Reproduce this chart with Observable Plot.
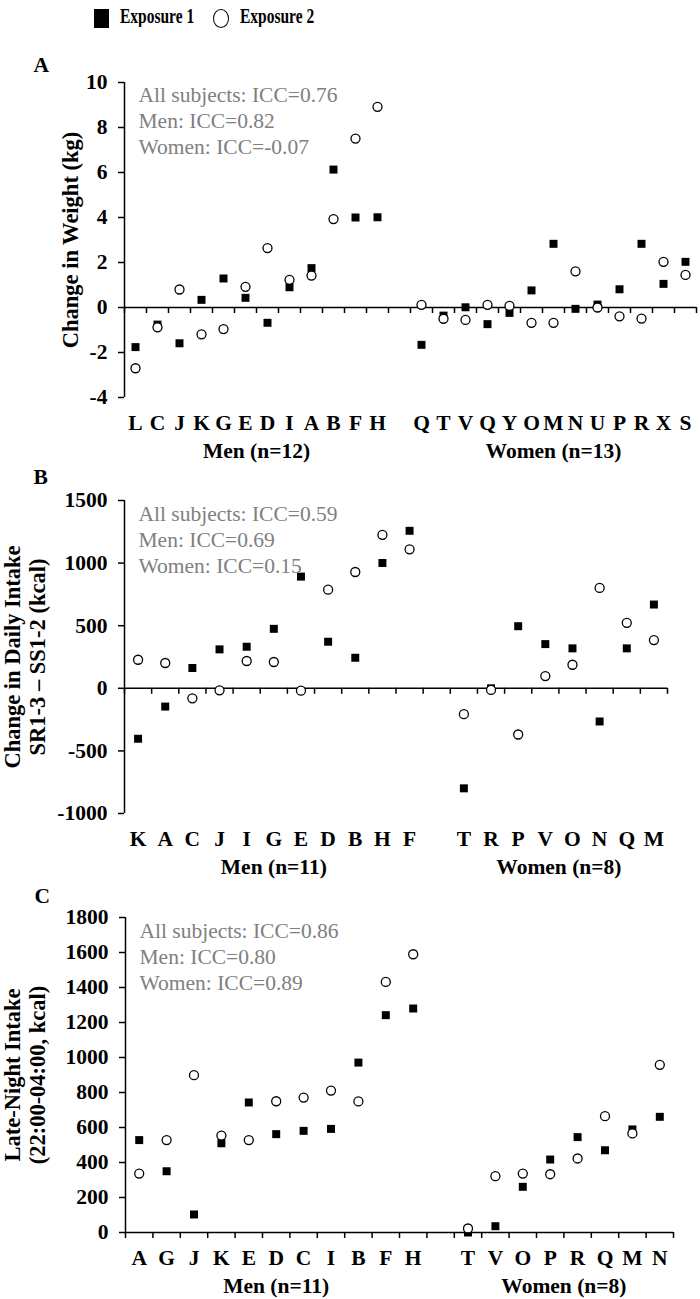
<!DOCTYPE html>
<html><head><meta charset="utf-8">
<script src="https://cdn.jsdelivr.net/npm/d3@7"></script>
<script src="https://cdn.jsdelivr.net/npm/@observablehq/plot@0.6"></script>
<style>
body{margin:0;background:#fff;width:700px;font-family:"Liberation Serif","Times New Roman",serif;}
#legend{position:relative;height:40px;}
#legend .sq{position:absolute;left:94px;top:9px;width:15px;height:19px;background:#000;}
#legend .ci{position:absolute;left:213px;top:9px;width:14px;height:17px;border:1.3px solid #000;border-radius:50%;box-sizing:content-box;}
#legend .lt{position:absolute;top:6px;font-weight:bold;font-size:15.5px;line-height:15px;transform:scaleY(1.3);transform-origin:left top;white-space:nowrap;}
svg{overflow:visible;display:block;}
</style></head><body>
<div id="legend">
  <div class="sq"></div><div class="lt" style="left:120px">Exposure 1</div>
  <div class="ci"></div><div class="lt" style="left:240px">Exposure 2</div>
</div>
<div id="chart"></div>
<script>
// Panel A: change in weight (kg)
const aMen = ["L","C","J","K","G","E","D","I","A","B","F","H"];
const aMenExp1 = [-1.76,-0.76,-1.59,0.34,1.29,0.43,-0.68,0.90,1.75,6.13,4.0,4.01];
const aMenExp2 = [-2.70,-0.88,0.80,-1.19,-0.96,0.92,2.64,1.23,1.42,3.93,7.51,8.92];
const aWomen = ["Q","T","V","Q","Y","O","M","N","U","P","R","X","S"];
const aWomenExp1 = [-1.66,-0.36,0.01,-0.74,-0.24,0.76,2.83,-0.06,0.13,0.81,2.83,1.05,2.03];
const aWomenExp2 = [0.12,-0.50,-0.55,0.12,0.07,-0.68,-0.68,1.61,0.0,-0.39,-0.49,2.03,1.45];
const aTicks = [-4,-2,0,2,4,6,8,10];

// Panel B: change in daily intake (kcal)
const bMen = ["K","A","C","J","I","G","E","D","B","H","F"];
const bMenExp1 = [-403,-146,162,311,332,475,892,372,244,1001,1258];
const bMenExp2 = [228,202,-80,-16,218,210,-19,788,929,1226,1110];
const bWomen = ["T","R","P","V","O","N","Q","M"];
const bWomenExp1 = [-799,0,496,353,319,-265,319,669];
const bWomenExp2 = [-207,-13,-369,98,188,802,523,385];
const bTicks = [-1000,-500,0,500,1000,1500];

// Panel C: late-night intake (kcal)
const cMen = ["A","G","J","K","E","D","C","I","B","F","H"];
const cMenExp1 = [528,350,103,510,743,562,581,592,971,1242,1280];
const cMenExp2 = [337,528,899,554,528,750,771,811,749,1432,1590];
const cWomen = ["T","V","O","P","R","Q","M","N"];
const cWomenExp1 = [0,36,261,417,545,470,589,661];
const cWomenExp2 = [23,322,337,333,423,665,566,958];
const cTicks = [0,200,400,600,800,1000,1200,1400,1600,1800];

const FONT = '"Liberation Serif","Times New Roman",serif';
const TICK_PX = 6;

function panel(o) {
  const rows = [];
  o.men.forEach((s, i) => rows.push({pos: i + 0.5, label: s, e1: o.e1m[i], e2: o.e2m[i]}));
  const off = o.men.length + 1;
  o.women.forEach((s, i) => rows.push({pos: off + i + 0.5, label: s, e1: o.e1w[i], e2: o.e2w[i]}));
  const nBands = off + o.women.length;
  const groups = [
    {pos: o.men.length / 2, t: `Men (n=${o.men.length})`},
    {pos: off + o.women.length / 2, t: `Women (n=${o.women.length})`}
  ];
  const y0 = o.ticks[0], y1 = o.ticks[o.ticks.length - 1];
  const unitsPerPx = (y1 - y0) / (o.height - o.marginTop - o.marginBottom);
  return Plot.plot({
    width: 700, height: o.height,
    marginTop: o.marginTop, marginBottom: o.marginBottom,
    marginLeft: o.marginLeft, marginRight: o.marginRight,
    style: {fontFamily: FONT, fontSize: "21.5px", color: "#000", background: "#fff", overflow: "visible"},
    x: {domain: [0, nBands], axis: null},
    y: {domain: [y0, y1], axis: null, clamp: false},
    marks: [
      Plot.ruleY([0], {strokeWidth: 1.5}),
      Plot.ruleX(d3.range(nBands + 1), {x: d => d, y1: () => 0, y2: () => -TICK_PX * unitsPerPx, strokeWidth: 1.5, clip: false}),
      Plot.ruleX([0], {strokeWidth: 1.5}),
      Plot.axisY({ticks: o.ticks, tickSize: 6, tickPadding: 11, tickFormat: d => String(d), fontWeight: "bold", strokeWidth: 1.5, label: null}),
      Plot.dot(rows, {x: "pos", y: "e1", symbol: "square", r: 4.5, fill: "#000", stroke: "none"}),
      Plot.dot(rows, {x: "pos", y: "e2", symbol: "circle", r: 4.5, fill: "#fff", stroke: "#000", strokeWidth: 1.3}),
      Plot.text(rows, {x: "pos", frameAnchor: "bottom", lineAnchor: "middle", text: "label", dy: 26, fontWeight: "bold"}),
      Plot.text(groups, {x: "pos", frameAnchor: "bottom", lineAnchor: "middle", text: "t", dy: 54, fontWeight: "bold"}),
      Plot.text([o.icc], {text: d => d, frameAnchor: "top-left", textAnchor: "start", lineAnchor: "top", dx: 14, dy: o.iccDy, fill: "#808080", lineHeight: 1.21}),
      Plot.text([o.yLabel], {text: d => d, frameAnchor: "left", textAnchor: "middle", lineAnchor: "middle", rotate: -90, dx: o.yLabelDx, fontWeight: "bold", fontSize: 22.5, lineHeight: 1.11}),
      Plot.text([o.letter], {text: d => d, frameAnchor: "top-left", textAnchor: "start", lineAnchor: "middle", dx: -91, dy: o.letterDy, fontWeight: "bold"})
    ]
  });
}

const chart = document.getElementById("chart");
chart.append(panel({
  men: aMen, women: aWomen, e1m: aMenExp1, e2m: aMenExp2, e1w: aWomenExp1, e2w: aWomenExp2,
  ticks: aTicks, height: 430, marginTop: 42, marginBottom: 73, marginLeft: 124, marginRight: 4,
  icc: "All subjects: ICC=0.76\nMen: ICC=0.82\nWomen: ICC=-0.07", iccDy: 1,
  yLabel: "Change in Weight (kg)", yLabelDx: -55, letter: "A", letterDy: -17
}));
chart.append(panel({
  men: bMen, women: bWomen, e1m: bMenExp1, e2m: bMenExp2, e1w: bWomenExp1, e2w: bWomenExp2,
  ticks: bTicks, height: 410, marginTop: 30, marginBottom: 67, marginLeft: 124, marginRight: 33,
  icc: "All subjects: ICC=0.59\nMen: ICC=0.69\nWomen: ICC=0.15", iccDy: 2,
  yLabel: "Change in Daily Intake\nSR1-3 \u2013 SS1-2 (kcal)", yLabelDx: -100, letter: "B", letterDy: -23
}));
chart.append(panel({
  men: cMen, women: cWomen, e1m: cMenExp1, e2m: cMenExp2, e1w: cWomenExp1, e2w: cWomenExp2,
  ticks: cTicks, height: 419, marginTop: 37, marginBottom: 67, marginLeft: 125, marginRight: 27,
  icc: "All subjects: ICC=0.86\nMen: ICC=0.80\nWomen: ICC=0.89", iccDy: 2,
  yLabel: "Late-Night Intake\n(22:00-04:00, kcal)", yLabelDx: -101, letter: "C", letterDy: -21
}));
</script>
</body></html>
